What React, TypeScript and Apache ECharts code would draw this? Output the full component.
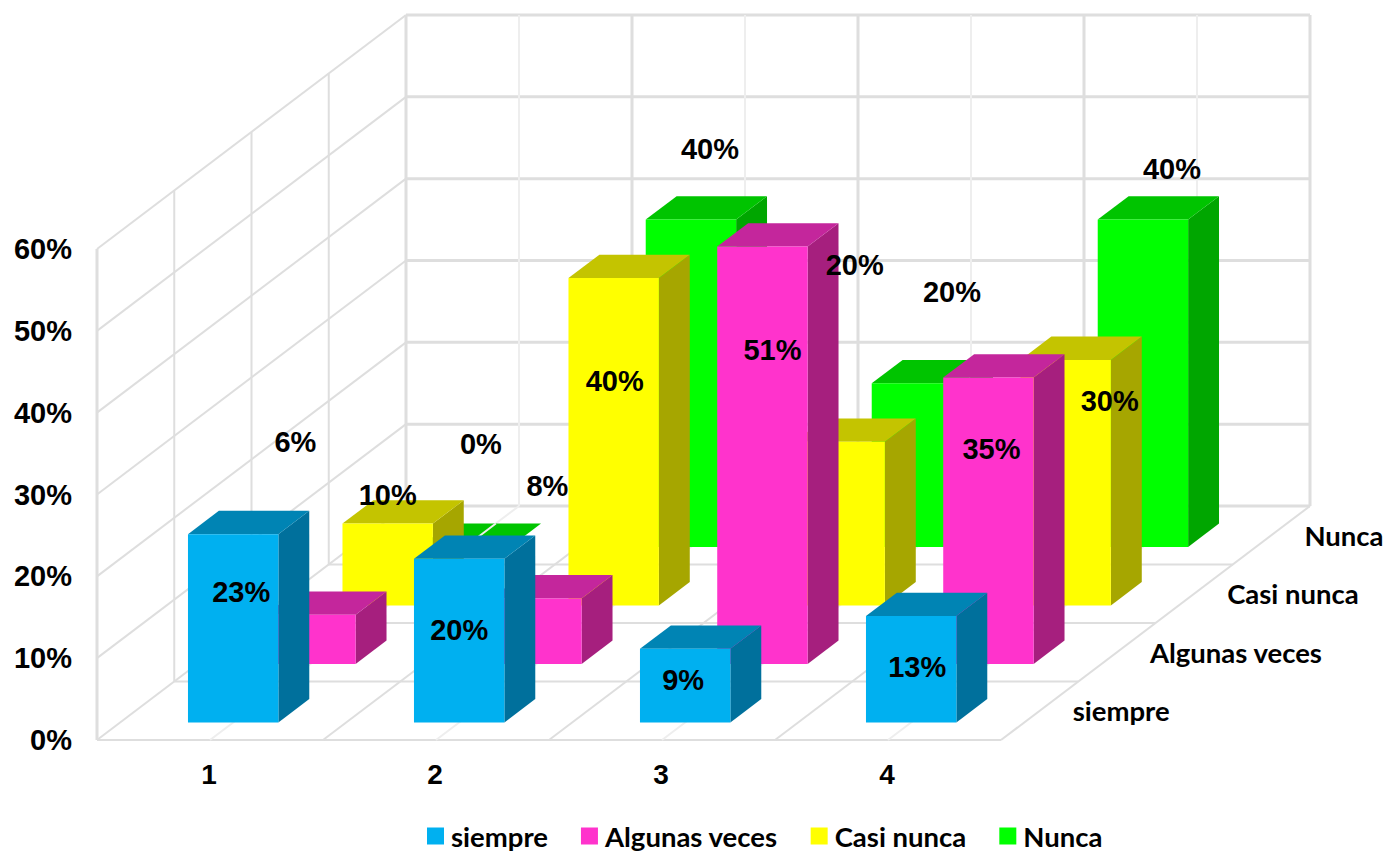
import React, { useEffect, useRef } from "react";
import * as echarts from "echarts";

const categories = ["1", "2", "3", "4"];
const depthNames = ["siempre", "Algunas veces", "Casi nunca", "Nunca"];
const yTicks = [0, 10, 20, 30, 40, 50, 60];

const siempre = [23, 20, 9, 13];
const algunasVeces = [6, 8, 51, 35];
const casiNunca = [10, 40, 20, 30];
const nunca = [0, 40, 20, 40];

// Hand-placed data label nudges, measured from the centre of each bar's front top edge.
const siempreLabelNudge = [[8, 59], [0, 72], [-2, 32], [6, 52]];
const algunasLabelNudge = [[-15, -172], [11, -111], [10, 104], [3, 72]];
const casiLabelNudge = [[0, -28], [1, 104], [15, -176], [44, 42]];
const nuncaLabelNudge = [[16, -102], [19, -70], [35, -90], [29, -50]];

// One pixel step along the depth axis for each of the four rows.
const DEPTH_DX = 77.25;
const DEPTH_DY = -58.5;
// The bars fill the middle 40% of a cell, in width and in depth.
const BAR_START = 0.3;
const BAR_SIZE = 0.4;

const SANS = '"Liberation Sans", Arial, sans-serif';
const SOFT = 'Lato, "Noto Sans", sans-serif';
const GRID_MAJOR = "#DEDEDE";
const GRID_MINOR = "#EEEEEE";

type Shades = { front: string; top: string; side: string };

const blueShades: Shades = { front: "#00B0F0", top: "#0084B4", side: "#00709C" };
const magentaShades: Shades = { front: "#FF33CC", top: "#C4269C", side: "#A61F7E" };
const yellowShades: Shades = { front: "#FFFF00", top: "#C4C400", side: "#A6A600" };
const greenShades: Shades = { front: "#00FF00", top: "#00C400", side: "#00A600" };

// Projects (cell position along the categories, value, depth row) onto the page.
function projector(api: any) {
  const origin = api.coord([0, 0]);
  const band = api.size([1, 0])[0];
  const left = origin[0] - band / 2;
  return (cell: number, value: number, depth: number): number[] => [
    left + cell * band + depth * DEPTH_DX,
    api.coord([0, value])[1] + depth * DEPTH_DY,
  ];
}

function gridLine(a: number[], b: number[], stroke: string, lineWidth: number) {
  return {
    type: "line",
    silent: true,
    shape: { x1: a[0], y1: a[1], x2: b[0], y2: b[1] },
    style: { stroke, lineWidth },
  };
}

// Back wall, side wall and floor of the box, plus the row names along the floor's right edge.
function renderBox(_params: any, api: any) {
  const p = projector(api);
  const cols = categories.length;
  const rows = depthNames.length;
  const top = yTicks[yTicks.length - 1];
  const children: any[] = [];

  yTicks.forEach((v) => {
    children.push(gridLine(p(0, v, 0), p(0, v, rows), GRID_MAJOR, 2));
    children.push(gridLine(p(0, v, rows), p(cols, v, rows), GRID_MAJOR, 3));
  });
  for (let d = 0; d <= rows; d++) {
    children.push(gridLine(p(0, 0, d), p(0, top, d), GRID_MAJOR, d === 0 || d === rows ? 3 : 2));
    children.push(gridLine(p(0, 0, d), p(cols, 0, d), GRID_MAJOR, 2));
  }
  for (let c = 0.5; c <= cols; c += 0.5) {
    const major = Number.isInteger(c);
    children.push(gridLine(p(c, 0, rows), p(c, top, rows), major ? GRID_MAJOR : GRID_MINOR, major ? 3 : 2));
    children.push(gridLine(p(c, 0, 0), p(c, 0, rows), major ? GRID_MAJOR : GRID_MINOR, 2));
  }

  depthNames.forEach((name, d) => {
    const at = p(cols, 0, d + 0.5);
    children.push({
      type: "text",
      silent: true,
      x: at[0] + 33,
      y: at[1],
      style: {
        text: name,
        fill: "#000",
        fontFamily: SOFT,
        fontWeight: 700,
        fontSize: 27.5,
        align: "left",
        verticalAlign: "middle",
      },
    });
  });
  return { type: "group", children };
}

// One 3D bar in a given depth row, with its data label on top of everything.
function barRenderer(depth: number, shades: Shades, nudges: number[][]) {
  return (_params: any, api: any) => {
    const p = projector(api);
    const c = api.value(0) as number;
    const v = api.value(1) as number;
    const x0 = c + BAR_START;
    const x1 = x0 + BAR_SIZE;
    const d0 = depth + BAR_START;
    const d1 = d0 + BAR_SIZE;

    const poly = (points: number[][], fill: string) => ({
      type: "polygon",
      silent: true,
      shape: { points },
      style: { fill },
    });

    const children: any[] = [
      poly([p(x1, 0, d0), p(x1, 0, d1), p(x1, v, d1), p(x1, v, d0)], shades.side),
      poly([p(x0, v, d0), p(x1, v, d0), p(x1, v, d1), p(x0, v, d1)], shades.top),
      poly([p(x0, 0, d0), p(x1, 0, d0), p(x1, v, d0), p(x0, v, d0)], shades.front),
    ];

    // A bar with no height lies on the floor, so the cell's centre line still shows across it.
    if (v === 0) {
      children.push(gridLine(p(c + 0.5, 0, d0), p(c + 0.5, 0, d1), GRID_MINOR, 2));
    }

    const anchor = p(c + 0.5, v, d0);
    const nudge = nudges[c];
    children.push({
      type: "text",
      silent: true,
      z2: 100,
      x: anchor[0] + nudge[0],
      y: anchor[1] + nudge[1] - 1,
      style: {
        text: `${v}%`,
        fill: "#000",
        fontFamily: SANS,
        fontWeight: 700,
        fontSize: 29,
        align: "center",
        verticalAlign: "middle",
      },
    });
    return { type: "group", children };
  };
}

function barSeries(name: string, values: number[], depth: number, shades: Shades, nudges: number[][]) {
  return {
    type: "custom",
    name,
    z: 2,
    clip: false,
    silent: true,
    itemStyle: { color: shades.front },
    encode: { x: 0, y: 1 },
    data: values.map((v, i) => [i, v]),
    renderItem: barRenderer(depth, shades, nudges),
  };
}

export default function App() {
  const ref = useRef<HTMLDivElement>(null);

  useEffect(() => {
    const chart = echarts.init(ref.current!, null, { renderer: "svg" });
    chart.setOption({
      animation: false,
      backgroundColor: "#FFFFFF",
      grid: { left: 97, top: 249, width: 904, height: 491, containLabel: false },
      xAxis: {
        type: "category",
        data: categories,
        axisLine: { show: false },
        axisTick: { show: false },
        splitLine: { show: false },
        axisLabel: {
          margin: 20,
          padding: [0, 2, 0, 0],
          color: "#000",
          fontFamily: SANS,
          fontWeight: 700,
          fontSize: 28,
        },
      },
      yAxis: {
        type: "value",
        min: 0,
        max: 60,
        interval: 10,
        axisLine: { show: false },
        axisTick: { show: false },
        splitLine: { show: false },
        axisLabel: {
          margin: 25,
          formatter: "{value}%",
          color: "#000",
          fontFamily: SANS,
          fontWeight: 700,
          fontSize: 29,
        },
      },
      legend: {
        left: 427,
        top: 822,
        padding: 0,
        icon: "rect",
        itemWidth: 17,
        itemHeight: 17,
        itemGap: 33,
        selectedMode: false,
        data: depthNames,
        textStyle: {
          color: "#000",
          fontFamily: SOFT,
          fontWeight: 700,
          fontSize: 27.5,
          padding: [0, 0, 4, 2],
        },
      },
      series: [
        {
          type: "custom",
          name: "caja",
          z: 1,
          clip: false,
          silent: true,
          data: [[0, 0]],
          encode: { x: 0, y: 1 },
          renderItem: renderBox,
        },
        // Rows go from the back of the box to the front so nearer bars cover farther ones.
        barSeries("Nunca", nunca, 3, greenShades, nuncaLabelNudge),
        barSeries("Casi nunca", casiNunca, 2, yellowShades, casiLabelNudge),
        barSeries("Algunas veces", algunasVeces, 1, magentaShades, algunasLabelNudge),
        barSeries("siempre", siempre, 0, blueShades, siempreLabelNudge),
      ],
    });
    return () => chart.dispose();
  }, []);

  return (
    <div
      ref={ref}
      style={{ position: "absolute", left: 0, top: 0, width: 1383, height: 851 }}
    />
  );
}
